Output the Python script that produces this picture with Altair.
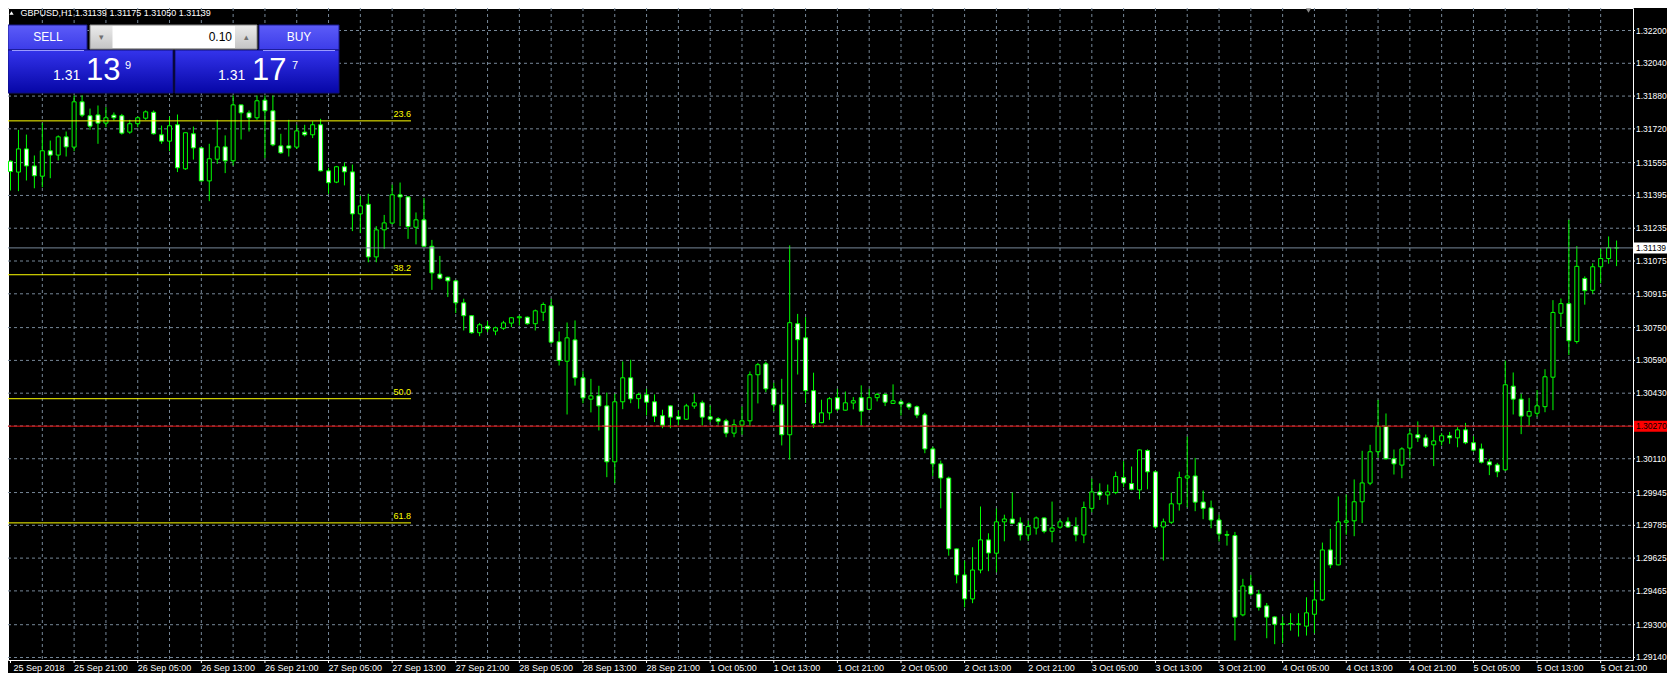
import altair as alt
import pandas as pd

# ---------------- data ----------------
open_ = [
    1.31562, 1.31509, 1.31622, 1.31539, 1.31489, 1.31613, 1.31592, 1.31681, 1.31631, 1.31852,
    1.31784, 1.31788, 1.31748, 1.31787, 1.31784, 1.31704, 1.31745, 1.31772, 1.31801, 1.31691,
    1.31660, 1.31740, 1.31525, 1.31696, 1.31627, 1.31466, 1.31572, 1.31632, 1.31564, 1.31837,
    1.31798, 1.31774, 1.31860, 1.31808, 1.31637, 1.31637, 1.31631, 1.31704, 1.31691, 1.31740,
    1.31515, 1.31460, 1.31535, 1.31510, 1.31305, 1.31352, 1.31095, 1.31227, 1.31260, 1.31398,
    1.31388, 1.31240, 1.31276, 1.31147, 1.31011, 1.30996, 1.30978, 1.30871, 1.30808, 1.30725,
    1.30757, 1.30733, 1.30747, 1.30772, 1.30798, 1.30801, 1.30769, 1.30825, 1.30856, 1.30681,
    1.30586, 1.30690, 1.30505, 1.30401, 1.30417, 1.30368, 1.30095, 1.30388, 1.30505, 1.30403,
    1.30422, 1.30388, 1.30320, 1.30368, 1.30315, 1.30303, 1.30367, 1.30383, 1.30315, 1.30305,
    1.30295, 1.30235, 1.30274, 1.30295, 1.30520, 1.30573, 1.30451, 1.30373, 1.30227, 1.30769,
    1.30700, 1.30442, 1.30286, 1.30334, 1.30408, 1.30347, 1.30382, 1.30408, 1.30351, 1.30408,
    1.30424, 1.30380, 1.30388, 1.30378, 1.30364, 1.30324, 1.30158, 1.30085, 1.30016, 1.29670,
    1.29543, 1.29426, 1.29567, 1.29714, 1.29649, 1.29802, 1.29816, 1.29797, 1.29738, 1.29772,
    1.29821, 1.29756, 1.29776, 1.29802, 1.29779, 1.29738, 1.29868, 1.29948, 1.29933, 1.29945,
    1.30018, 1.29989, 1.29958, 1.30150, 1.30046, 1.29777, 1.29800, 1.29890, 1.30016, 1.30026,
    1.29899, 1.29870, 1.29811, 1.29740, 1.29735, 1.29348, 1.29489, 1.29450, 1.29392, 1.29338,
    1.29304, 1.29304, 1.29301, 1.29293, 1.29351, 1.29421, 1.29665, 1.29592, 1.29800, 1.29807,
    1.29900, 1.29991, 1.30144, 1.30267, 1.30110, 1.30079, 1.30162, 1.30227, 1.30212, 1.30178,
    1.30196, 1.30222, 1.30212, 1.30251, 1.30188, 1.30158, 1.30095, 1.30080, 1.30056, 1.30464,
    1.30401, 1.30318, 1.30332, 1.30364, 1.30508, 1.30820, 1.30867, 1.30682, 1.30990, 1.30932,
    1.31047, 1.31087, 1.31139,
]
high = [
    1.31566, 1.31715, 1.31692, 1.31590, 1.31748, 1.31663, 1.31688, 1.31707, 1.31883, 1.31883,
    1.31819, 1.31834, 1.31826, 1.31800, 1.31793, 1.31764, 1.31780, 1.31810, 1.31810, 1.31736,
    1.31780, 1.31790, 1.31701, 1.31731, 1.31631, 1.31647, 1.31764, 1.31688, 1.31883, 1.31837,
    1.31810, 1.31883, 1.31883, 1.31883, 1.31696, 1.31764, 1.31740, 1.31740, 1.31757, 1.31769,
    1.31530, 1.31539, 1.31556, 1.31546, 1.31393, 1.31403, 1.31245, 1.31300, 1.31448, 1.31458,
    1.31390, 1.31312, 1.31383, 1.31178, 1.31100, 1.30998, 1.30983, 1.30891, 1.30810, 1.30773,
    1.30782, 1.30755, 1.30783, 1.30801, 1.30808, 1.30804, 1.30838, 1.30873, 1.30891, 1.30731,
    1.30775, 1.30785, 1.30537, 1.30500, 1.30466, 1.30433, 1.30427, 1.30585, 1.30593, 1.30432,
    1.30451, 1.30424, 1.30349, 1.30370, 1.30346, 1.30378, 1.30427, 1.30394, 1.30370, 1.30313,
    1.30305, 1.30302, 1.30365, 1.30536, 1.30578, 1.30583, 1.30481, 1.30500, 1.31151, 1.30817,
    1.30801, 1.30530, 1.30398, 1.30411, 1.30451, 1.30438, 1.30411, 1.30468, 1.30451, 1.30432,
    1.30427, 1.30473, 1.30398, 1.30385, 1.30370, 1.30334, 1.30169, 1.30101, 1.30023, 1.29672,
    1.29613, 1.29678, 1.29877, 1.29746, 1.29867, 1.29837, 1.29945, 1.29824, 1.29808, 1.29828,
    1.29824, 1.29901, 1.29813, 1.29824, 1.29824, 1.29901, 1.30013, 1.29990, 1.29984, 1.30047,
    1.30098, 1.30072, 1.30155, 1.30156, 1.30052, 1.29818, 1.29945, 1.30047, 1.30218, 1.30114,
    1.29955, 1.29906, 1.29836, 1.29759, 1.29753, 1.29524, 1.29543, 1.29470, 1.29406, 1.29341,
    1.29340, 1.29356, 1.29356, 1.29434, 1.29515, 1.29701, 1.29768, 1.29926, 1.29935, 1.30009,
    1.30149, 1.30178, 1.30397, 1.30331, 1.30155, 1.30166, 1.30253, 1.30292, 1.30228, 1.30267,
    1.30235, 1.30241, 1.30264, 1.30285, 1.30220, 1.30184, 1.30110, 1.30090, 1.30589, 1.30531,
    1.30427, 1.30407, 1.30445, 1.30547, 1.30884, 1.30892, 1.31276, 1.31148, 1.31000, 1.31064,
    1.31136, 1.31195, 1.31175,
]
low = [
    1.31419, 1.31416, 1.31468, 1.31430, 1.31435, 1.31479, 1.31566, 1.31585, 1.31611, 1.31777,
    1.31715, 1.31647, 1.31728, 1.31761, 1.31692, 1.31696, 1.31728, 1.31764, 1.31692, 1.31647,
    1.31611, 1.31509, 1.31520, 1.31570, 1.31463, 1.31367, 1.31549, 1.31504, 1.31541, 1.31668,
    1.31707, 1.31764, 1.31577, 1.31635, 1.31598, 1.31585, 1.31622, 1.31683, 1.31675, 1.31512,
    1.31403, 1.31455, 1.31444, 1.31221, 1.31211, 1.31069, 1.31069, 1.31134, 1.31255, 1.31245,
    1.31183, 1.31156, 1.31145, 1.30934, 1.30985, 1.30899, 1.30821, 1.30736, 1.30720, 1.30708,
    1.30728, 1.30713, 1.30739, 1.30752, 1.30760, 1.30764, 1.30736, 1.30782, 1.30671, 1.30565,
    1.30326, 1.30467, 1.30381, 1.30336, 1.30248, 1.30020, 1.29991, 1.30352, 1.30381, 1.30354,
    1.30321, 1.30289, 1.30259, 1.30259, 1.30272, 1.30300, 1.30354, 1.30272, 1.30289, 1.30276,
    1.30215, 1.30215, 1.30227, 1.30266, 1.30380, 1.30435, 1.30342, 1.30175, 1.30106, 1.30521,
    1.30382, 1.30260, 1.30284, 1.30300, 1.30342, 1.30345, 1.30351, 1.30273, 1.30349, 1.30390,
    1.30367, 1.30377, 1.30321, 1.30349, 1.30308, 1.30137, 1.30025, 1.29868, 1.29637, 1.29502,
    1.29385, 1.29405, 1.29551, 1.29561, 1.29556, 1.29707, 1.29792, 1.29711, 1.29709, 1.29740,
    1.29746, 1.29702, 1.29768, 1.29772, 1.29707, 1.29698, 1.29849, 1.29909, 1.29886, 1.29937,
    1.29971, 1.29956, 1.29912, 1.29961, 1.29769, 1.29613, 1.29792, 1.29857, 1.29873, 1.29854,
    1.29815, 1.29771, 1.29706, 1.29686, 1.29223, 1.29341, 1.29442, 1.29369, 1.29234, 1.29205,
    1.29210, 1.29271, 1.29242, 1.29247, 1.29258, 1.29415, 1.29576, 1.29590, 1.29739, 1.29732,
    1.29796, 1.29981, 1.30114, 1.30105, 1.30033, 1.30015, 1.30111, 1.30192, 1.30162, 1.30074,
    1.30175, 1.30183, 1.30166, 1.30181, 1.30145, 1.30087, 1.30030, 1.30020, 1.30050, 1.30326,
    1.30230, 1.30271, 1.30315, 1.30337, 1.30347, 1.30754, 1.30616, 1.30672, 1.30862, 1.30915,
    1.30966, 1.31062, 1.31050,
]
close = [
    1.31512, 1.31622, 1.31539, 1.31491, 1.31613, 1.31592, 1.31681, 1.31632, 1.31852, 1.31787,
    1.31733, 1.31748, 1.31774, 1.31774, 1.31699, 1.31745, 1.31774, 1.31803, 1.31696, 1.31660,
    1.31735, 1.31530, 1.31701, 1.31627, 1.31466, 1.31574, 1.31632, 1.31564, 1.31837, 1.31798,
    1.31774, 1.31857, 1.31808, 1.31642, 1.31603, 1.31626, 1.31710, 1.31691, 1.31740, 1.31515,
    1.31457, 1.31535, 1.31510, 1.31305, 1.31344, 1.31095, 1.31227, 1.31261, 1.31398, 1.31388,
    1.31243, 1.31276, 1.31147, 1.31017, 1.30991, 1.30978, 1.30871, 1.30808, 1.30725, 1.30764,
    1.30744, 1.30749, 1.30773, 1.30798, 1.30803, 1.30769, 1.30832, 1.30863, 1.30679, 1.30590,
    1.30700, 1.30505, 1.30407, 1.30417, 1.30368, 1.30095, 1.30388, 1.30505, 1.30402, 1.30424,
    1.30386, 1.30318, 1.30274, 1.30313, 1.30303, 1.30368, 1.30383, 1.30313, 1.30303, 1.30293,
    1.30235, 1.30276, 1.30295, 1.30520, 1.30569, 1.30451, 1.30373, 1.30227, 1.30774, 1.30691,
    1.30442, 1.30281, 1.30334, 1.30403, 1.30352, 1.30383, 1.30393, 1.30342, 1.30408, 1.30424,
    1.30386, 1.30393, 1.30377, 1.30362, 1.30323, 1.30158, 1.30085, 1.30016, 1.29670, 1.29543,
    1.29426, 1.29567, 1.29714, 1.29650, 1.29802, 1.29816, 1.29795, 1.29738, 1.29779, 1.29821,
    1.29756, 1.29772, 1.29802, 1.29777, 1.29738, 1.29872, 1.29948, 1.29933, 1.29948, 1.30023,
    1.29992, 1.29961, 1.30153, 1.30046, 1.29777, 1.29802, 1.29890, 1.30018, 1.30026, 1.29898,
    1.29868, 1.29811, 1.29743, 1.29737, 1.29337, 1.29489, 1.29450, 1.29385, 1.29337, 1.29302,
    1.29302, 1.29306, 1.29304, 1.29358, 1.29421, 1.29665, 1.29592, 1.29802, 1.29807, 1.29900,
    1.29992, 1.30144, 1.30267, 1.30110, 1.30085, 1.30158, 1.30231, 1.30212, 1.30171, 1.30197,
    1.30222, 1.30212, 1.30251, 1.30188, 1.30152, 1.30093, 1.30080, 1.30046, 1.30471, 1.30401,
    1.30318, 1.30341, 1.30368, 1.30510, 1.30824, 1.30867, 1.30686, 1.31049, 1.30930, 1.31047,
    1.31087, 1.31140, 1.31139,
]

x_labels = [
    "25 Sep 2018", "25 Sep 21:00", "26 Sep 05:00", "26 Sep 13:00", "26 Sep 21:00",
    "27 Sep 05:00", "27 Sep 13:00", "27 Sep 21:00", "28 Sep 05:00", "28 Sep 13:00",
    "28 Sep 21:00", "1 Oct 05:00", "1 Oct 13:00", "1 Oct 21:00", "2 Oct 05:00",
    "2 Oct 13:00", "2 Oct 21:00", "3 Oct 05:00", "3 Oct 13:00", "3 Oct 21:00",
    "4 Oct 05:00", "4 Oct 13:00", "4 Oct 21:00", "5 Oct 05:00", "5 Oct 13:00",
    "5 Oct 21:00",
]
BARS_PER_LABEL = 8
BARS_PER_GRID = 4

y_tick_labels = [
    "1.32200", "1.32040", "1.31880", "1.31720", "1.31555", "1.31395", "1.31235",
    "1.31075", "1.30915", "1.30750", "1.30590", "1.30430", "1.30270", "1.30110",
    "1.29945", "1.29785", "1.29625", "1.29465", "1.29300", "1.29140",
]

fib_names = ["23.6", "38.2", "50.0", "61.8"]
fib_prices = [1.31759, 1.31008, 1.30403, 1.29797]

bid_price = 1.31139
bid_label = "1.31139"
hline_price = 1.30269
hline_label = "1.30270"

title_text = "GBPUSD,H1  1.31139 1.31175 1.31050 1.31139"
lot_text = "0.10"
sell_parts = ["1.31", "13", "9"]
buy_parts = ["1.31", "17", "7"]

# ---------------- layout / style ----------------
W, H = 1625, 652
RIGHT_PAD = 34
BAR_PX = 8
X0 = 0.3125
FONT = "Liberation Sans"
GREEN = "#00ff00"
GRID = "#778899"
LBL = 8.5

x_end = X0 + W / BAR_PX
xscale = alt.Scale(domain=[X0, x_end], nice=False, zero=False)
yscale = alt.Scale(domain=[1.2912779, 1.3230981], nice=False, zero=False)

df = pd.DataFrame({
    "i": list(range(len(open_))),
    "open": open_, "high": high, "low": low, "close": close,
})
xlab = pd.DataFrame({"i": [k * BARS_PER_LABEL for k in range(len(x_labels))],
                     "label": x_labels})
xgrid = pd.DataFrame({"i": [g for g in range(BARS_PER_GRID, int(x_end) + 1, BARS_PER_GRID)
                            if g < x_end - 0.5]})
ylab = pd.DataFrame({"price": [float(v) for v in y_tick_labels], "label": y_tick_labels})
fib = pd.DataFrame({"name": fib_names, "price": fib_prices})
one = pd.DataFrame({"k": [0]})

X = lambda f="i:Q": alt.X(f, scale=xscale, axis=None)
Y = lambda f: alt.Y(f, scale=yscale, axis=None)
YD = lambda v: alt.Y(datum=v, type="quantitative", scale=yscale, axis=None)

# grid (dashed)
vgrid = alt.Chart(xgrid).mark_rule(color=GRID, strokeWidth=1, strokeDash=[3, 3]).encode(
    x=X(), y=alt.value(0), y2=alt.value(H))
hgrid = alt.Chart(ylab).mark_rule(color=GRID, strokeWidth=1, strokeDash=[3, 3]).encode(
    x=alt.value(0), x2=alt.value(W), y=Y("price:Q"))

# price scale on the right
yticks = alt.Chart(ylab).mark_rule(color="#ffffff", strokeWidth=1).encode(
    x=alt.value(W), x2=alt.value(W + 2), y=Y("price:Q"))
ytext = alt.Chart(ylab).mark_text(align="left", baseline="middle", color="#ffffff",
                                  font=FONT, fontSize=LBL).encode(
    x=alt.value(W + 3), y=Y("price:Q"), text="label:N")

# candles
wicks = alt.Chart(df).mark_rule(color=GREEN, strokeWidth=1).encode(
    x=X(), y=Y("low:Q"), y2="high:Q")
bodies = alt.Chart(df).mark_bar(width=4, stroke=GREEN, strokeWidth=1).encode(
    x=X(), y=Y("open:Q"), y2="close:Q",
    fill=alt.condition(alt.datum.close < alt.datum.open,
                       alt.value("#ffffff"), alt.value("#000000")),
)

# fibonacci levels
fib_lines = alt.Chart(fib).mark_rule(color="#ffff00", strokeWidth=1).encode(
    x=alt.value(0), x2=alt.value(403), y=Y("price:Q"))
fib_text = alt.Chart(fib).mark_text(align="right", baseline="bottom", dy=-2,
                                    color="#ffff00", font=FONT, fontSize=9).encode(
    x=alt.value(403), y=Y("price:Q"), text="name:N")

def hline(price, color):
    return alt.Chart(one).mark_rule(color=color, strokeWidth=1).encode(
        x=alt.value(0), x2=alt.value(W), y=YD(price))

def price_box(price, color, label):
    box = alt.Chart(one).mark_rule(color=color, strokeWidth=11).encode(
        x=alt.value(W + 1), x2=alt.value(W + RIGHT_PAD), y=YD(price))
    txt = alt.Chart(one).mark_text(align="left", baseline="middle", color="#000000",
                                   font=FONT, fontSize=LBL).encode(
        x=alt.value(W + 3), y=YD(price), text=alt.value(label))
    return box + txt

# time scale at the bottom
xticks = alt.Chart(xlab).mark_rule(color="#ffffff").encode(
    x=X(), y=alt.value(H), y2=alt.value(H + 3))
xtext = alt.Chart(xlab).mark_text(align="left", baseline="middle", color="#ffffff",
                                  font=FONT, fontSize=9).encode(
    x=X(), y=alt.value(H + 8), text="label:N",
).transform_filter(alt.datum.i > 0)
xtext0 = alt.Chart(xlab).mark_text(align="left", baseline="middle", color="#ffffff",
                                   font=FONT, fontSize=9, dx=3).encode(
    x=X(), y=alt.value(H + 8), text="label:N",
).transform_filter(alt.datum.i == 0)

# ---------------- one-click trading panel + title ----------------
def grad(c1, c2):
    return {"gradient": "linear", "x1": 0, "y1": 0, "x2": 0, "y2": 1,
            "stops": [{"offset": 0, "color": c1}, {"offset": 1, "color": c2}]}

def rect(x1, x2, y1, y2, fill, stroke=None):
    kw = {"fill": fill}
    if stroke:
        kw["stroke"] = stroke
        kw["strokeWidth"] = 1
    return alt.Chart(one).mark_rect(**kw).encode(
        x=alt.value(x1), x2=alt.value(x2), y=alt.value(y1), y2=alt.value(y2))

def label(x, y, text, size, color="#ffffff", align="left", baseline="middle"):
    return alt.Chart(one).mark_text(align=align, baseline=baseline, color=color,
                                    font=FONT, fontSize=size).encode(
        x=alt.value(x), y=alt.value(y), text=alt.value(text))

def seg(x1, x2, y, color):
    return alt.Chart(one).mark_rule(color=color, strokeWidth=1).encode(
        x=alt.value(x1), x2=alt.value(x2), y=alt.value(y))

panel = [
    rect(0, 79, 17, 42, grad("#5c5cf8", "#3c3ce8"), "#1a1a90"),
    rect(251, 331, 17, 42, grad("#5c5cf8", "#3c3ce8"), "#1a1a90"),
    rect(0, 165, 42, 85, grad("#3434ec", "#0606a6"), "#10107a"),
    rect(167, 331, 42, 85, grad("#3434ec", "#0606a6"), "#10107a"),
    seg(4, 76, 42.5, "#9a9aff"),
    seg(255, 327, 42.5, "#9a9aff"),
    rect(82, 249, 17, 41, grad("#ececec", "#c4c4c4"), "#8c8c8c"),
    rect(104.5, 227, 18, 40, "#ffffff"),
    label(93, 28.5, "\u25BE", 9, "#707070", "center"),
    label(238, 28.5, "\u25B4", 9, "#707070", "center"),
    label(40, 29, "SELL", 12, align="center"),
    label(291, 29, "BUY", 12, align="center"),
    label(224, 29, lot_text, 12, "#000000", "right"),
    label(45, 72, sell_parts[0], 14, baseline="alphabetic"),
    label(78, 72, sell_parts[1], 31, baseline="alphabetic"),
    label(117, 61, sell_parts[2], 11, baseline="alphabetic"),
    label(210, 72, buy_parts[0], 14, baseline="alphabetic"),
    label(244, 72, buy_parts[1], 31, baseline="alphabetic"),
    label(284, 61, buy_parts[2], 11, baseline="alphabetic"),
]

title_tri = alt.Chart(one).mark_point(shape="triangle-up", filled=True, color="#ffffff",
                                      size=18, opacity=1).encode(
    x=alt.value(3.5), y=alt.value(5))
title = label(12.5, 5, title_text, 9)
shift_marker = alt.Chart(one).mark_point(shape="triangle-down", filled=True,
                                         color="#8a8a8a", size=30, opacity=1).encode(
    x=alt.value(1300.5), y=alt.value(2.5))

chart = alt.layer(
    vgrid, hgrid, yticks, ytext,
    wicks, bodies,
    fib_lines, fib_text,
    hline(bid_price, GRID), hline(hline_price, "#e81010"),
    price_box(bid_price, "#ffffff", bid_label),
    price_box(hline_price, "#ff0000", hline_label),
    xticks, xtext, xtext0,
    *panel,
    title_tri, title, shift_marker,
).properties(
    width=W, height=H,
    background="#000000",
    padding={"left": 0, "top": 0, "right": RIGHT_PAD, "bottom": 13},
    autosize=alt.AutoSizeParams(type="none"),
).configure_view(stroke="#ffffff", strokeWidth=1)

chart.save("out.html", embed_options={"renderer": "svg", "actions": False})
